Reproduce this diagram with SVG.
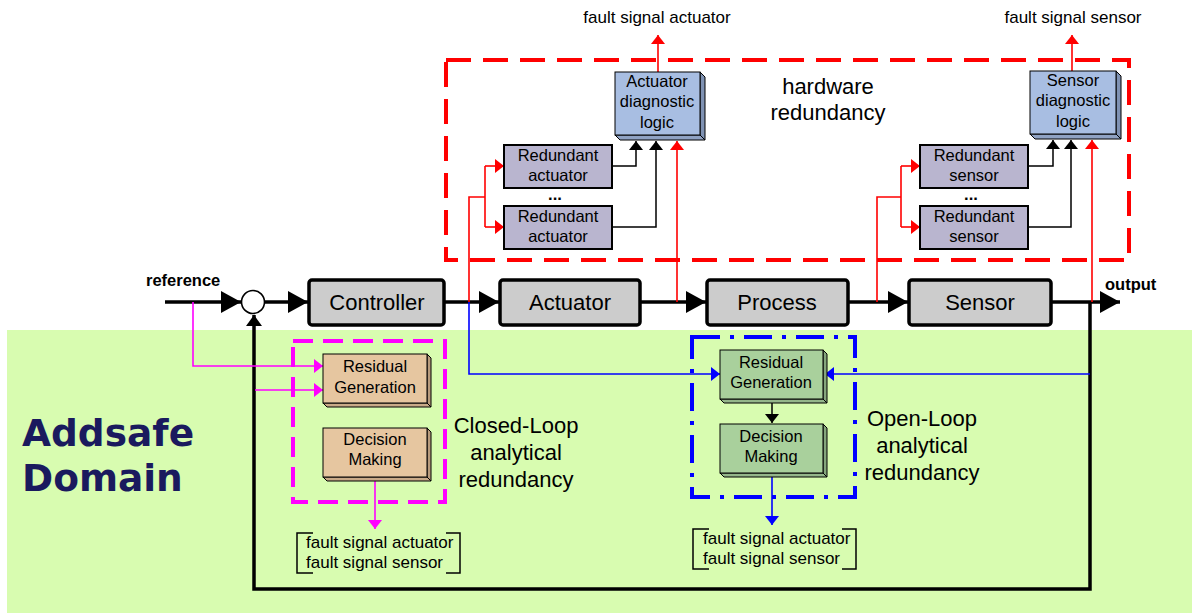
<svg xmlns="http://www.w3.org/2000/svg" width="1192" height="613" viewBox="0 0 1192 613">
  <style>
    .t { font-family: "Liberation Sans", Arial, sans-serif; fill: #000; }
    .main { font-size: 22px; text-anchor: middle; }
    .box { font-size: 16.5px; text-anchor: middle; }
    .big { font-size: 22px; text-anchor: middle; }
    .sig { font-size: 17px; }
    .bold { font-weight: bold; font-size: 16.5px; }
    .mainbox { fill: #cccccc; stroke: #000; stroke-width: 3.5; }
    .redbox { fill: #b9b5cf; stroke: #000; stroke-width: 2; }
    .thick { stroke: #000; stroke-width: 3.5; fill: none; }
    .thin { stroke: #000; stroke-width: 1.5; fill: none; }
    .red { stroke: #ff0000; stroke-width: 1.6; fill: none; }
    .mag { stroke: #ff00ff; stroke-width: 1.6; fill: none; }
    .blue { stroke: #0000ff; stroke-width: 1.6; fill: none; }
    .edge { stroke: #000; stroke-width: 1; }
  </style>
  <defs>
    <marker id="bigArrow" markerUnits="userSpaceOnUse" markerWidth="20" markerHeight="22" refX="20" refY="11" orient="auto">
      <path d="M0,0 L20,11 L0,22 Z" fill="#000"/>
    </marker>
    <marker id="fbArrow" markerUnits="userSpaceOnUse" markerWidth="11" markerHeight="16" refX="11" refY="8" orient="auto">
      <path d="M0,0 L11,8 L0,16 Z" fill="#000"/>
    </marker>
    <marker id="blkArrow" markerUnits="userSpaceOnUse" markerWidth="9" markerHeight="14" refX="9" refY="7" orient="auto">
      <path d="M0,0 L9,7 L0,14 Z" fill="#000"/>
    </marker>
    <marker id="redArrow" markerUnits="userSpaceOnUse" markerWidth="9" markerHeight="14" refX="9" refY="7" orient="auto">
      <path d="M0,0 L9,7 L0,14 Z" fill="#ff0000"/>
    </marker>
    <marker id="magArrow" markerUnits="userSpaceOnUse" markerWidth="9" markerHeight="14" refX="9" refY="7" orient="auto">
      <path d="M0,0 L9,7 L0,14 Z" fill="#ff00ff"/>
    </marker>
    <marker id="blueArrow" markerUnits="userSpaceOnUse" markerWidth="9" markerHeight="14" refX="9" refY="7" orient="auto">
      <path d="M0,0 L9,7 L0,14 Z" fill="#0000ff"/>
    </marker>
  </defs>

  <!-- Addsafe domain backdrop -->
  <rect id="domain" x="7" y="330" width="1185" height="283" fill="#d8fcb0"/>
  <g id="domain-label" font-family="'DejaVu Sans', Verdana, sans-serif" font-weight="bold" font-size="37.5" fill="#1a1a5e">
    <text x="22" y="446">Addsafe</text>
    <text x="22" y="491">Domain</text>
  </g>

  <!-- Redundancy groupings -->
  <g id="hw-redundancy">
    <rect x="446" y="60" width="683" height="200" fill="none" stroke="#ff0000" stroke-width="4" stroke-dasharray="25 12"/>
    <text class="t big" x="828" y="94">hardware</text>
    <text class="t big" x="828" y="120">redundancy</text>
  </g>
  <g id="closed-loop">
    <rect x="293" y="341" width="152" height="161" fill="none" stroke="#ff00ff" stroke-width="4" stroke-dasharray="20 10"/>
    <text class="t big" x="516" y="433">Closed-Loop</text>
    <text class="t big" x="516" y="460">analytical</text>
    <text class="t big" x="516" y="487">redundancy</text>
  </g>
  <g id="open-loop">
    <rect x="692" y="337" width="163" height="160" fill="none" stroke="#0000ff" stroke-width="4" stroke-dasharray="28 10 4 10"/>
    <text class="t big" x="922" y="426">Open-Loop</text>
    <text class="t big" x="922" y="453">analytical</text>
    <text class="t big" x="922" y="480">redundancy</text>
  </g>

  <!-- Connectors -->
  <g id="connectors">
    <!-- main signal path -->
    <path class="thick" d="M165,302 H241" marker-end="url(#bigArrow)"/>
    <path class="thick" d="M265,302 H308" marker-end="url(#bigArrow)"/>
    <path class="thick" d="M444,302 H499" marker-end="url(#bigArrow)"/>
    <path class="thick" d="M640,302 H706" marker-end="url(#bigArrow)"/>
    <path class="thick" d="M848,302 H908" marker-end="url(#bigArrow)"/>
    <path class="thick" d="M1051,302 H1120" marker-end="url(#bigArrow)"/>
    <!-- feedback loop -->
    <path class="thick" d="M1090,302 V589 H254 V315" marker-end="url(#fbArrow)"/>

    <!-- hardware redundancy: actuator side -->
    <path class="red" d="M469,302 V197 H485"/>
    <path class="red" d="M485,166 V227"/>
    <path class="red" d="M485,166 H504" marker-end="url(#redArrow)"/>
    <path class="red" d="M485,227 H504" marker-end="url(#redArrow)"/>
    <path class="red" d="M677,302 V141" marker-end="url(#redArrow)"/>
    <path class="red" d="M658,72 V35" marker-end="url(#redArrow)"/>
    <path class="thin" d="M612,166 H636 V141" marker-end="url(#blkArrow)"/>
    <path class="thin" d="M612,227 H656 V141" marker-end="url(#blkArrow)"/>

    <!-- hardware redundancy: sensor side -->
    <path class="red" d="M877,302 V197 H901"/>
    <path class="red" d="M901,166 V227"/>
    <path class="red" d="M901,166 H920" marker-end="url(#redArrow)"/>
    <path class="red" d="M901,227 H920" marker-end="url(#redArrow)"/>
    <path class="red" d="M1092,302 V140" marker-end="url(#redArrow)"/>
    <path class="red" d="M1072,71 V35" marker-end="url(#redArrow)"/>
    <path class="thin" d="M1028,166 H1053 V140" marker-end="url(#blkArrow)"/>
    <path class="thin" d="M1028,227 H1071 V140" marker-end="url(#blkArrow)"/>

    <!-- closed-loop analytical redundancy -->
    <path class="mag" d="M193,302 V366 H323" marker-end="url(#magArrow)"/>
    <path class="mag" d="M255,390 H323" marker-end="url(#magArrow)"/>
    <path class="mag" d="M375,478 V529" marker-end="url(#magArrow)"/>

    <!-- open-loop analytical redundancy -->
    <path class="blue" d="M469,302 V374 H720" marker-end="url(#blueArrow)"/>
    <path class="blue" d="M1090,374 H825" marker-end="url(#blueArrow)"/>
    <path class="thin" d="M772,401 V423" marker-end="url(#blkArrow)"/>
    <path class="blue" d="M772,474 V525" marker-end="url(#blueArrow)"/>
  </g>

  <!-- Loop nodes -->
  <g id="reference">
    <text class="t bold" x="146" y="286">reference</text>
  </g>
  <g id="sum">
    <circle cx="253" cy="302" r="11.5" fill="#fff" stroke="#000" stroke-width="1.6"/>
  </g>
  <g id="controller">
    <rect class="mainbox" x="309" y="280" width="135" height="45" rx="3"/>
    <text class="t main" x="377" y="310">Controller</text>
  </g>
  <g id="actuator">
    <rect class="mainbox" x="500" y="280" width="140" height="45" rx="3"/>
    <text class="t main" x="570" y="310">Actuator</text>
  </g>
  <g id="process">
    <rect class="mainbox" x="707" y="280" width="141" height="45" rx="3"/>
    <text class="t main" x="777" y="310">Process</text>
  </g>
  <g id="sensor">
    <rect class="mainbox" x="909" y="280" width="142" height="45" rx="3"/>
    <text class="t main" x="980" y="310">Sensor</text>
  </g>
  <g id="output">
    <text class="t bold" x="1105" y="290">output</text>
  </g>

  <!-- Hardware redundancy nodes -->
  <g id="redundant-actuator-1">
    <rect class="redbox" x="504" y="145" width="108" height="43"/>
    <text class="t box" x="558" y="161">Redundant</text>
    <text class="t box" x="558" y="181">actuator</text>
  </g>
  <text class="t box" x="555" y="200" font-weight="bold">...</text>
  <g id="redundant-actuator-2">
    <rect class="redbox" x="504" y="206" width="108" height="43"/>
    <text class="t box" x="558" y="222">Redundant</text>
    <text class="t box" x="558" y="242">actuator</text>
  </g>
  <g id="actuator-diagnostic">
    <polygon points="700,72 705,77 705,140 700,135" fill="#7f92b3" class="edge"/>
    <polygon points="615,135 620,140 705,140 700,135" fill="#8fa2c3" class="edge"/>
    <rect x="615" y="72" width="85" height="63" fill="#a8bee2" class="edge"/>
    <text class="t box" x="657" y="87">Actuator</text>
    <text class="t box" x="657" y="107">diagnostic</text>
    <text class="t box" x="657" y="128">logic</text>
  </g>
  <g id="fault-actuator">
    <text class="t sig" x="657" y="23" text-anchor="middle">fault signal actuator</text>
  </g>

  <g id="redundant-sensor-1">
    <rect class="redbox" x="920" y="145" width="108" height="43"/>
    <text class="t box" x="974" y="161">Redundant</text>
    <text class="t box" x="974" y="181">sensor</text>
  </g>
  <text class="t box" x="971" y="200" font-weight="bold">...</text>
  <g id="redundant-sensor-2">
    <rect class="redbox" x="920" y="206" width="108" height="43"/>
    <text class="t box" x="974" y="222">Redundant</text>
    <text class="t box" x="974" y="242">sensor</text>
  </g>
  <g id="sensor-diagnostic">
    <polygon points="1116,71 1121,76 1121,139 1116,134" fill="#7f92b3" class="edge"/>
    <polygon points="1030,134 1035,139 1121,139 1116,134" fill="#8fa2c3" class="edge"/>
    <rect x="1030" y="71" width="86" height="63" fill="#a8bee2" class="edge"/>
    <text class="t box" x="1073" y="86">Sensor</text>
    <text class="t box" x="1073" y="106">diagnostic</text>
    <text class="t box" x="1073" y="127">logic</text>
  </g>
  <g id="fault-sensor">
    <text class="t sig" x="1073" y="23" text-anchor="middle">fault signal sensor</text>
  </g>

  <!-- Closed-loop analytical nodes -->
  <g id="cl-residual">
    <polygon points="427,354 431,358 431,407 427,403" fill="#b89b7c" class="edge"/>
    <polygon points="323,403 327,407 431,407 427,403" fill="#c9aa88" class="edge"/>
    <rect x="323" y="354" width="104" height="49" fill="#e6c6a0" class="edge"/>
    <text class="t box" x="375" y="372">Residual</text>
    <text class="t box" x="375" y="393">Generation</text>
  </g>
  <g id="cl-decision">
    <polygon points="427,428 431,432 431,481 427,477" fill="#b89b7c" class="edge"/>
    <polygon points="323,477 327,481 431,481 427,477" fill="#c9aa88" class="edge"/>
    <rect x="323" y="428" width="104" height="49" fill="#e6c6a0" class="edge"/>
    <text class="t box" x="375" y="445">Decision</text>
    <text class="t box" x="375" y="465">Making</text>
  </g>
  <g id="cl-faults">
    <path class="thin" d="M313,533 H297 V573 H313 M446,533 H460 V573 H446"/>
    <text class="t sig" x="306" y="548">fault signal actuator</text>
    <text class="t sig" x="306" y="568">fault signal sensor</text>
  </g>

  <!-- Open-loop analytical nodes -->
  <g id="ol-residual">
    <polygon points="823,350 827,354 827,403 823,399" fill="#86a67d" class="edge"/>
    <polygon points="720,399 724,403 827,403 823,399" fill="#94b68a" class="edge"/>
    <rect x="720" y="350" width="103" height="49" fill="#a9d09c" class="edge"/>
    <text class="t box" x="771" y="368">Residual</text>
    <text class="t box" x="771" y="388">Generation</text>
  </g>
  <g id="ol-decision">
    <polygon points="823,424 827,428 827,477 823,473" fill="#86a67d" class="edge"/>
    <polygon points="720,473 724,477 827,477 823,473" fill="#94b68a" class="edge"/>
    <rect x="720" y="424" width="103" height="49" fill="#a9d09c" class="edge"/>
    <text class="t box" x="771" y="442">Decision</text>
    <text class="t box" x="771" y="462">Making</text>
  </g>
  <g id="ol-faults">
    <path class="thin" d="M709,529 H693 V569 H709 M842,529 H856 V569 H842"/>
    <text class="t sig" x="703" y="544">fault signal actuator</text>
    <text class="t sig" x="703" y="564">fault signal sensor</text>
  </g>
</svg>
